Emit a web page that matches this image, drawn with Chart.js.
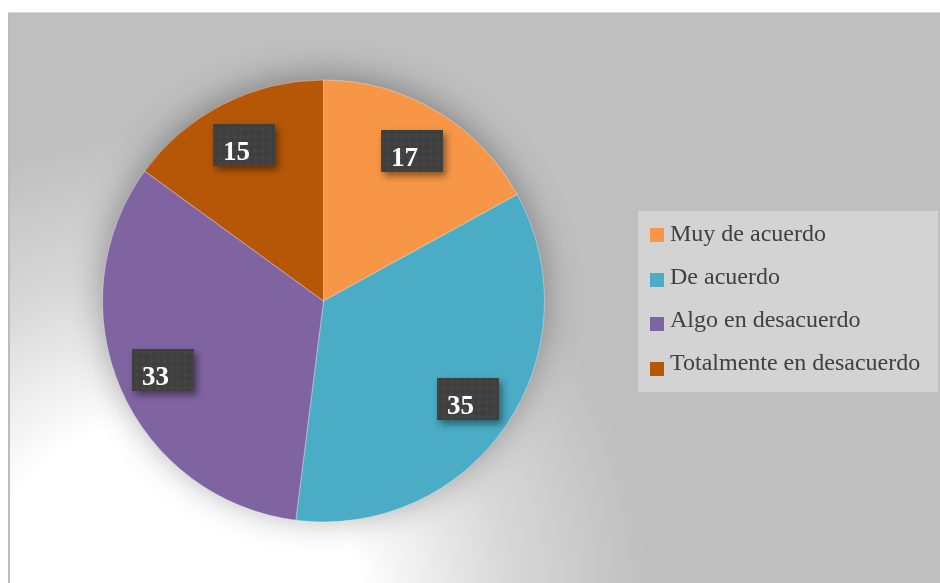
<!DOCTYPE html>
<html>
<head>
<meta charset="utf-8">
<script src="https://cdn.jsdelivr.net/npm/chart.js@4"></script>
<style>
  html, body { margin: 0; padding: 0; background: #ffffff; }
  #wrap { width: 940px; height: 583px; position: relative; }
  canvas { display: block; }
</style>
</head>
<body>
<div id="wrap"><canvas id="c" width="940" height="583"></canvas></div>
<script>
const categories = ["Muy de acuerdo", "De acuerdo", "Algo en desacuerdo", "Totalmente en desacuerdo"];
const values = [17, 35, 33, 15];
const sliceColors = ["#F79646", "#4BACC6", "#8064A2", "#B65708"];

const FONT_SERIF = '"Liberation Serif", "Times New Roman", serif';

// subtle dotted texture for the data-label boxes
function makeTexture(ctx) {
  const t = document.createElement('canvas');
  t.width = 7; t.height = 7;
  const g = t.getContext('2d');
  g.fillStyle = '#3f3f3f';
  g.fillRect(0, 0, 7, 7);
  g.fillStyle = 'rgba(255,255,255,0.035)';
  g.beginPath(); g.arc(3.5, 3.5, 2.2, 0, Math.PI * 2); g.fill();
  return ctx.createPattern(t, 'repeat');
}

const backgroundPlugin = {
  id: 'bg',
  beforeDraw(chart) {
    const ctx = chart.ctx;
    ctx.save();
    ctx.fillStyle = '#ffffff';
    ctx.fillRect(0, 0, chart.width, chart.height);
    ctx.fillStyle = '#bfbfbf';
    ctx.fillRect(8, 12, chart.width - 8, chart.height - 12);
    const rg = ctx.createRadialGradient(170, 610, 0, 170, 610, 480);
    rg.addColorStop(0, 'rgba(255,255,255,1)');
    rg.addColorStop(0.4, 'rgba(255,255,255,1)');
    rg.addColorStop(0.7, 'rgba(255,255,255,0.4)');
    rg.addColorStop(1, 'rgba(255,255,255,0)');
    ctx.fillStyle = rg;
    ctx.fillRect(8, 12, chart.width - 8, chart.height - 12);
    ctx.strokeStyle = '#bcbcbc';
    ctx.lineWidth = 2;
    ctx.beginPath();
    ctx.moveTo(9, chart.height);
    ctx.lineTo(9, 13);
    ctx.stroke();
    ctx.strokeStyle = '#d9d9d9';
    ctx.lineWidth = 1;
    ctx.beginPath();
    ctx.moveTo(8, 12.5);
    ctx.lineTo(chart.width, 12.5);
    ctx.stroke();
    ctx.restore();
  },
  beforeDatasetsDraw(chart) {
    const meta = chart.getDatasetMeta(0);
    const a = meta.data[0];
    if (!a) return;
    const ctx = chart.ctx;
    ctx.save();
    ctx.shadowColor = 'rgba(0,0,0,0.35)';
    ctx.shadowBlur = 35;
    ctx.shadowOffsetY = -4;
    ctx.fillStyle = '#888888';
    ctx.beginPath();
    ctx.arc(a.x, a.y, a.outerRadius - 1, 0, Math.PI * 2);
    ctx.fill();
    ctx.restore();
  }
};

const labelPlugin = {
  id: 'boxLabels',
  afterDatasetsDraw(chart) {
    const ctx = chart.ctx;
    const meta = chart.getDatasetMeta(0);
    const tex = makeTexture(ctx);
    meta.data.forEach((arc, i) => {
      const mid = (arc.startAngle + arc.endAngle) / 2;
      const r = arc.outerRadius * 0.79;
      const cx = arc.x + Math.cos(mid) * r;
      const cy = arc.y + Math.sin(mid) * r;
      const w = 62, h = 42;
      const x0 = Math.round(cx - w / 2), y0 = Math.round(cy - h / 2);
      ctx.save();
      ctx.shadowColor = 'rgba(0,0,0,0.45)';
      ctx.shadowBlur = 7;
      ctx.shadowOffsetX = 3;
      ctx.shadowOffsetY = 4;
      ctx.fillStyle = '#3f3f3f';
      ctx.fillRect(x0, y0, w, h);
      ctx.restore();
      ctx.save();
      ctx.fillStyle = tex;
      ctx.fillRect(x0, y0, w, h);
      ctx.fillStyle = '#ffffff';
      ctx.font = 'bold 27px ' + FONT_SERIF;
      ctx.textAlign = 'left';
      ctx.textBaseline = 'alphabetic';
      ctx.fillText(String(values[i]), x0 + 10, y0 + 36);
      ctx.restore();
    });
  }
};

const legendPlugin = {
  id: 'customLegend',
  afterDraw(chart) {
    const ctx = chart.ctx;
    ctx.save();
    ctx.fillStyle = '#d3d3d3';
    ctx.fillRect(638, 211, 300, 181);
    ctx.font = '24px ' + FONT_SERIF;
    ctx.textAlign = 'left';
    ctx.textBaseline = 'alphabetic';
    categories.forEach((lab, i) => {
      const sy = Math.round(228 + i * 44.7);
      ctx.fillStyle = sliceColors[i];
      ctx.fillRect(650, sy, 14, 14);
      ctx.fillStyle = '#404040';
      ctx.fillText(lab, 670, 241 + i * 43);
    });
    ctx.restore();
  }
};

new Chart(document.getElementById('c'), {
  type: 'pie',
  data: {
    labels: categories,
    datasets: [{
      data: values,
      backgroundColor: sliceColors,
      borderColor: 'rgba(255,255,255,0.35)',
      borderWidth: 1
    }]
  },
  options: {
    responsive: false,
    animation: false,
    devicePixelRatio: 1,
    layout: { padding: { left: 102, right: 395, top: 79, bottom: 60 } },
    plugins: {
      legend: { display: false },
      tooltip: { enabled: false }
    }
  },
  plugins: [backgroundPlugin, labelPlugin, legendPlugin]
});
</script>
</body>
</html>
